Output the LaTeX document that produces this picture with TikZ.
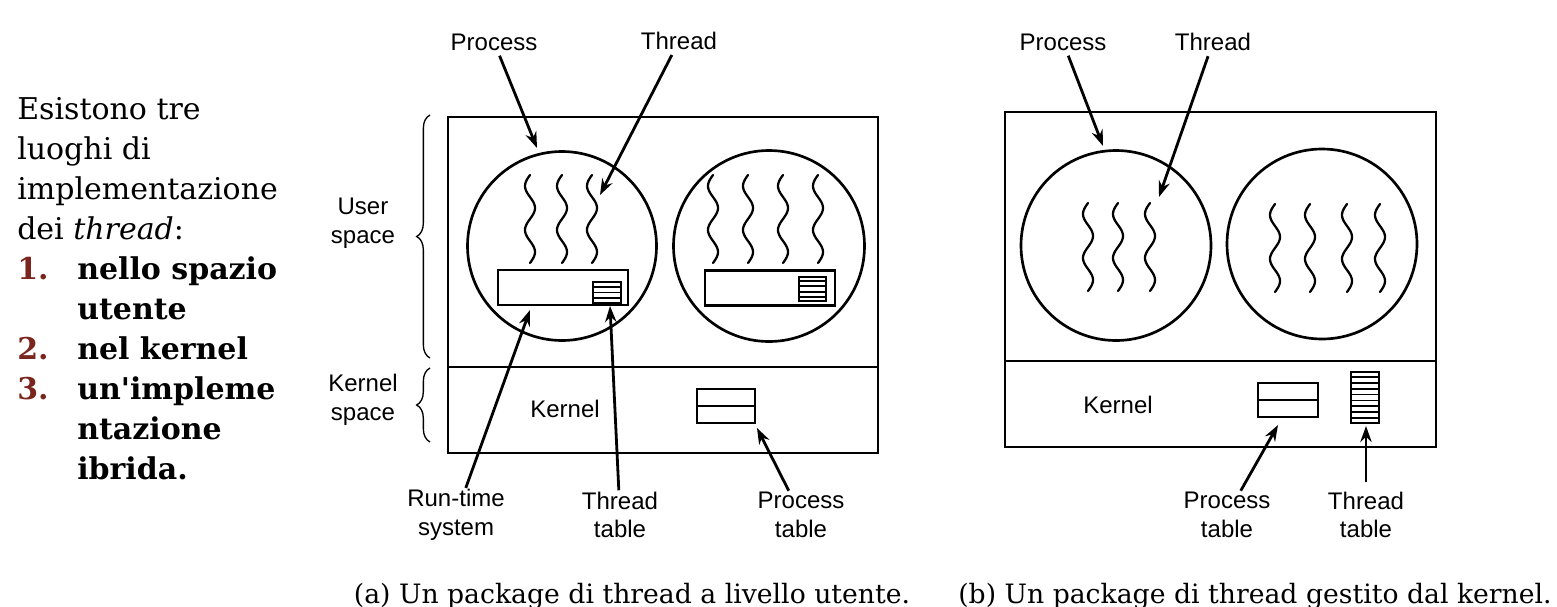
\documentclass[tikz,border=0pt]{standalone}
\usepackage{fontspec}
\setmainfont{Liberation Sans}
\newfontfamily\slab{DejaVu Serif}
\usetikzlibrary{arrows.meta,decorations.pathreplacing,calc}
\definecolor{numred}{RGB}{122,38,30}
\def\pxu{0.75pt}
\begin{document}
\begin{tikzpicture}[x=0.75pt,y=-0.75pt,
  lbl/.style={font=\fontsize{18}{21.5}\selectfont, align=center, inner sep=1pt},
  frame/.style={draw, line width=1.8pt, rectangle, inner sep=0pt},
  proc/.style={draw, line width=2pt, circle, inner sep=0pt},
  tbl/.style={draw, line width=1.7pt, rectangle, inner sep=0pt},
  arr/.style={line width=2.1pt, -{Stealth[length=12pt,width=8.5pt]}},
  brc/.style={line width=1pt, decorate, decoration={brace, amplitude=10pt}},
  txt/.style={font=\slab\fontsize{22.5}{27}\selectfont, anchor=base west, inner sep=0pt},
  num/.style={font=\slab\bfseries\fontsize{22.5}{27}\selectfont, text=numred, anchor=base west, inner sep=0pt},
  itm/.style={font=\slab\bfseries\fontsize{22.5}{27}\selectfont, anchor=base west, inner sep=0pt},
  capt/.style={font=\slab\fontsize{20}{24}\selectfont, anchor=base, inner sep=0pt},
  squig/.pic={\draw[line width=1.7pt, line cap=round] plot[domain=0:720, samples=60, smooth, variable=\t] ({-5*sin(\t)}, {\t/720*88});}
]
\useasboundingbox (0,0) rectangle (1557,607);

% ---------- left text ----------
\node[txt] (t1) at (17,119) {Esistono tre};
\node[txt] (t2) at (17,159) {luoghi di};
\node[txt] (t3) at (17,199) {implementazione};
\node[txt] (t4) at (17,239) {dei \textit{thread}:};
\node[num] (n1) at (17,279) {1.};
\node[itm] (i1) at (77,279) {nello spazio};
\node[itm] (i1b) at (77,319) {utente};
\node[num] (n2) at (17,359) {2.};
\node[itm] (i2) at (77,359) {nel kernel};
\node[num] (n3) at (17,399) {3.};
\node[itm] (i3) at (77,399) {un\textquotesingle impleme};
\node[itm] (i3b) at (77,439) {ntazione};
\node[itm] (i3c) at (77,479) {ibrida.};

% ---------- (a) ----------
\node[frame, minimum width=430*\pxu, minimum height=336*\pxu] (boxA) at (663,285) {};
\draw[line width=1.8pt] (448,367) -- (878,367);
\node[proc, minimum size=189*\pxu] (pA1) at (562,246) {};
\node[proc, minimum size=191*\pxu] (pA2) at (769,246) {};
\foreach \cx in {530,562,592} \pic at (\cx,175) {squig};
\foreach \cx in {713,748,783,818} \pic at (\cx,175) {squig};
\node[tbl, minimum width=130*\pxu, minimum height=35*\pxu] (rtA1) at (563,287.5) {};
\node[tbl, minimum width=130*\pxu, minimum height=35*\pxu] (rtA2) at (770,288) {};
\node[tbl, minimum width=28*\pxu, minimum height=21*\pxu] (ttA1) at (607,292.5) {};
\foreach \i in {1,2,3} \draw[line width=1.4pt] ($(ttA1.north west)!\i/4!(ttA1.south west)$) -- ($(ttA1.north east)!\i/4!(ttA1.south east)$);
\node[tbl, minimum width=27*\pxu, minimum height=24*\pxu] (ttA2) at (812.5,289) {};
\foreach \i in {1,2,3,4} \draw[line width=1.4pt] ($(ttA2.north west)!\i/5!(ttA2.south west)$) -- ($(ttA2.north east)!\i/5!(ttA2.south east)$);
\node[tbl, minimum width=58*\pxu, minimum height=34*\pxu] (ptA) at (726,406) {};
\draw[line width=1.7pt] (ptA.west) -- (ptA.east);
\node[lbl] (kA) at (565,409) {Kernel};

% braces
\node[lbl] (us) at (363,223) {User\\space};
\node[lbl] (ks) at (363,400) {Kernel\\space};
\draw[brc] (430,358) -- (430,115);
\draw[brc] (430,442) -- (430,368);

% labels and arrows (a)
\node[lbl] (lpA) at (494,42) {Process};
\node[lbl] (ltA) at (679,41) {Thread};
\node[lbl] (lrA) at (456,515) {Run-time\\system};
\node[lbl] (lttA) at (620,515) {Thread\\table};
\node[lbl] (lptA) at (801,515) {Process\\table};
\coordinate (cpA) at (537,148);
\coordinate (ctA) at (600,195);
\coordinate (crA) at (530,310);
\coordinate (cttA) at (610,306);
\coordinate (cptA) at (757,428);
\draw[arr, shorten <=3pt] (lpA) -- (cpA);
\draw[arr, shorten <=3pt] (ltA) -- (ctA);
\draw[arr] (lrA) -- (crA);
\draw[arr] (lttA) -- (cttA);
\draw[arr] (lptA) -- (cptA);

% ---------- (b) ----------
\node[frame, minimum width=431*\pxu, minimum height=335*\pxu] (boxB) at (1220.5,279.5) {};
\draw[line width=1.8pt] (1005,361) -- (1436,361);
\node[proc, minimum size=190*\pxu] (pB1) at (1116,245.5) {};
\node[proc, minimum size=190*\pxu] (pB2) at (1322,244) {};
\foreach \cx in {1088,1118,1150} \pic at (\cx,203) {squig};
\foreach \cx in {1275,1310,1347,1380} \pic at (\cx,204) {squig};
\node[lbl] (kB) at (1118,405) {Kernel};
\node[tbl, minimum width=60*\pxu, minimum height=34*\pxu] (ptB) at (1288,400) {};
\draw[line width=1.7pt] (ptB.west) -- (ptB.east);
\node[tbl, minimum width=28*\pxu, minimum height=51*\pxu] (ttB) at (1365,397.5) {};
\foreach \i in {1,...,8} \draw[line width=1.4pt] ($(ttB.north west)!\i/9!(ttB.south west)$) -- ($(ttB.north east)!\i/9!(ttB.south east)$);

\node[lbl] (lpB) at (1063,42) {Process};
\node[lbl] (ltB) at (1213,42) {Thread};
\node[lbl] (lptB) at (1227,515) {Process\\table};
\node[lbl] (lttB) at (1366,515) {Thread\\table};
\coordinate (cpB) at (1103,146);
\coordinate (ctB) at (1159,197);
\coordinate (cptB) at (1278,425);
\coordinate (cttB) at (1366,426);
\draw[arr, shorten <=3pt] (lpB) -- (cpB);
\draw[arr, shorten <=3pt] (ltB) -- (ctB);
\draw[arr] (lptB) -- (cptB);
\draw[arr, shorten <=6pt] (lttB) -- (cttB);

% ---------- captions ----------
\node[capt] (capA) at (632,603) {(a) Un package di thread a livello utente.};
\node[capt] (capB) at (1255,603) {(b) Un package di thread gestito dal kernel.};
\end{tikzpicture}
\end{document}
